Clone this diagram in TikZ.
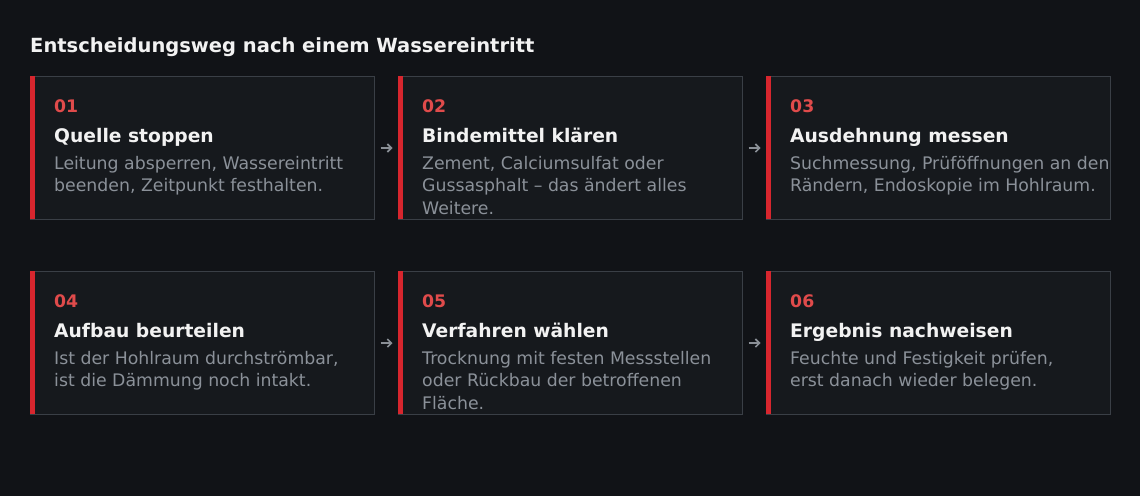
\documentclass[tikz,border=0pt]{standalone}
\usepackage{fontspec}
\setmainfont{DejaVu Sans}
\usetikzlibrary{arrows.meta}
\definecolor{bg}{HTML}{111317}
\definecolor{boxfill}{HTML}{16191D}
\definecolor{boxline}{HTML}{3A3F46}
\definecolor{accent}{HTML}{D7262E}
\definecolor{numc}{HTML}{E04B4B}
\definecolor{titlec}{HTML}{F2F2F2}
\definecolor{descc}{HTML}{8B9199}
\definecolor{arrc}{HTML}{8A8F96}
\tikzset{
  card/.style={draw=boxline, fill=boxfill, line width=1pt, minimum width=344pt, minimum height=143pt, inner sep=0pt, anchor=north west},
  numtxt/.style={anchor=base west, inner sep=0pt, text=numc, font=\fontsize{17.3}{17.3}\selectfont\bfseries},
  titletxt/.style={anchor=base west, inner sep=0pt, text=titlec, font=\fontsize{18.7}{18.7}\selectfont\bfseries},
  desctxt/.style={anchor=north west, inner sep=0pt, text=descc, align=left, font=\fontsize{17.3}{22.5}\selectfont},
  flow/.style={draw=arrc, line width=1.6pt, -{Straight Barb[length=4pt,width=8pt]}}
}
\newcommand{\mkcard}[6]{%
  % #1 name, #2 x, #3 y, #4 number, #5 title, #6 desc
  \node[card] (#1) at (#2,#3) {};
  \fill[accent] (#2,#3) rectangle ++(5,143);
  \node[numtxt] (#1n) at (#2+24,#3+36) {#4};
  \node[titletxt] (#1t) at (#2+24,#3+66) {#5};
  \node[desctxt] (#1d) at (#2+24,#3+93-15.75) {\strut#6};
}
\begin{document}
\begin{tikzpicture}[x=1pt,y=-1pt]
\fill[bg] (0,0) rectangle (1140,496);
\useasboundingbox (0,0) rectangle (1140,496);
\node[anchor=base west, inner sep=0pt, text=titlec, font=\fontsize{19.5}{19.5}\selectfont\bfseries] (head) at (30,52.5) {Entscheidungsweg nach einem Wassereintritt};
\mkcard{c1}{30}{76}{01}{Quelle stoppen}{Leitung absperren, Wassereintritt\\beenden, Zeitpunkt festhalten.}
\mkcard{c2}{398}{76}{02}{Bindemittel klären}{Zement, Calciumsulfat oder\\Gussasphalt – das ändert alles\\Weitere.}
\mkcard{c3}{766}{76}{03}{Ausdehnung messen}{Suchmessung, Prüföffnungen an den\\Rändern, Endoskopie im Hohlraum.}
\mkcard{c4}{30}{271}{04}{Aufbau beurteilen}{Ist der Hohlraum durchströmbar,\\ist die Dämmung noch intakt.}
\mkcard{c5}{398}{271}{05}{Verfahren wählen}{Trocknung mit festen Messstellen\\oder Rückbau der betroffenen\\Fläche.}
\mkcard{c6}{766}{271}{06}{Ergebnis nachweisen}{Feuchte und Festigkeit prüfen,\\erst danach wieder belegen.}
\draw[flow] ([xshift=5.5pt]c1.east) -- ([xshift=-5.5pt]c2.west);
\draw[flow] ([xshift=5.5pt]c2.east) -- ([xshift=-5.5pt]c3.west);
\draw[flow] ([xshift=5.5pt]c4.east) -- ([xshift=-5.5pt]c5.west);
\draw[flow] ([xshift=5.5pt]c5.east) -- ([xshift=-5.5pt]c6.west);
\end{tikzpicture}
\end{document}
